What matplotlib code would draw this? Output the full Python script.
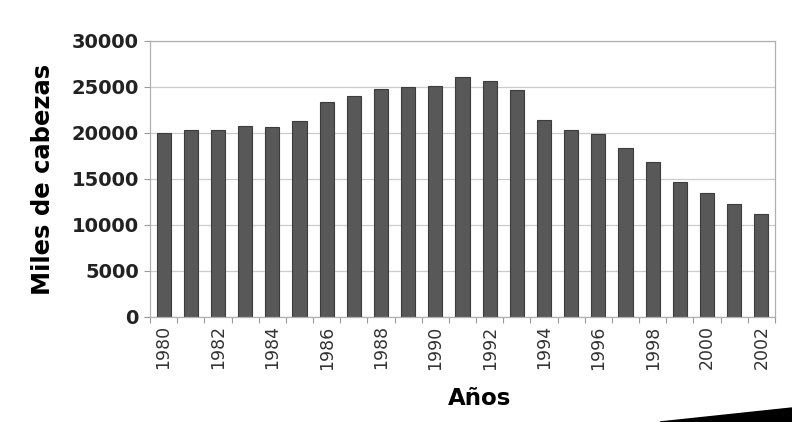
#!/usr/bin/env python3

import matplotlib
matplotlib.use("Agg")
import matplotlib.pyplot as plt
import matplotlib.patches as patches
import numpy as np

# sheep stock, thousands of heads
years = list(range(1980, 2003))
values = [20000, 20350, 20300, 20800, 20650, 21300, 23400, 24000, 24800,
          25050, 25100, 26100, 25700, 24650, 21450, 20300, 19900, 18350,
          16850, 14650, 13500, 12300, 11250]
y_ticks = [0, 5000, 10000, 15000, 20000, 25000, 30000]

plt.rcParams['font.family'] = 'DejaVu Sans'
fig = plt.figure(figsize=(7.92, 4.22), dpi=100)
ax = fig.add_axes([150 / 792, 1 - 317 / 422, 625 / 792, 276 / 422])

x = np.arange(len(years))
ax.bar(x, values, width=0.52, color='#585858', edgecolor='#3c3c3c',
       linewidth=0.8, zorder=2)

ax.set_xlim(-0.5, len(years) - 0.5)
ax.set_ylim(0, 30000)
ax.set_yticks(y_ticks)
ax.set_yticklabels([str(v) for v in y_ticks], fontsize=14, fontweight='bold',
                   color='#222222')

# category ticks between bars, labels on even years only
ax.set_xticks(np.arange(-0.5, len(years), 1.0), minor=False)
ax.set_xticklabels([])
ax.set_xticks(x[::2], minor=True)
ax.set_xticklabels([str(y) for y in years[::2]], minor=True, rotation=90,
                   fontsize=12.5, color='#333333')
ax.tick_params(axis='x', which='major', length=4, color='#999999')
ax.tick_params(axis='x', which='minor', length=0, pad=6)
ax.tick_params(axis='y', length=4, color='#999999', pad=4)

ax.set_axisbelow(True)
ax.yaxis.grid(True, color='#cccccc', linewidth=0.9, zorder=0)
for side in ['left', 'right', 'top', 'bottom']:
    ax.spines[side].set_color('#b0b0b0')
    ax.spines[side].set_linewidth(0.9)

ax.set_ylabel("Miles de cabezas", fontsize=17.5, fontweight='bold', labelpad=12)
fig.text(0.606, 0.055, "Años", fontsize=16.5, fontweight='bold', ha='center',
         va='center')

# dark scan edge in the lower right corner
fig.add_artist(patches.Polygon([(660 / 792, 0.0), (1.0, 14 / 422), (1.0, 0.0)],
                               closed=True, transform=fig.transFigure,
                               color='black'))

plt.savefig('out.png', dpi=100)
